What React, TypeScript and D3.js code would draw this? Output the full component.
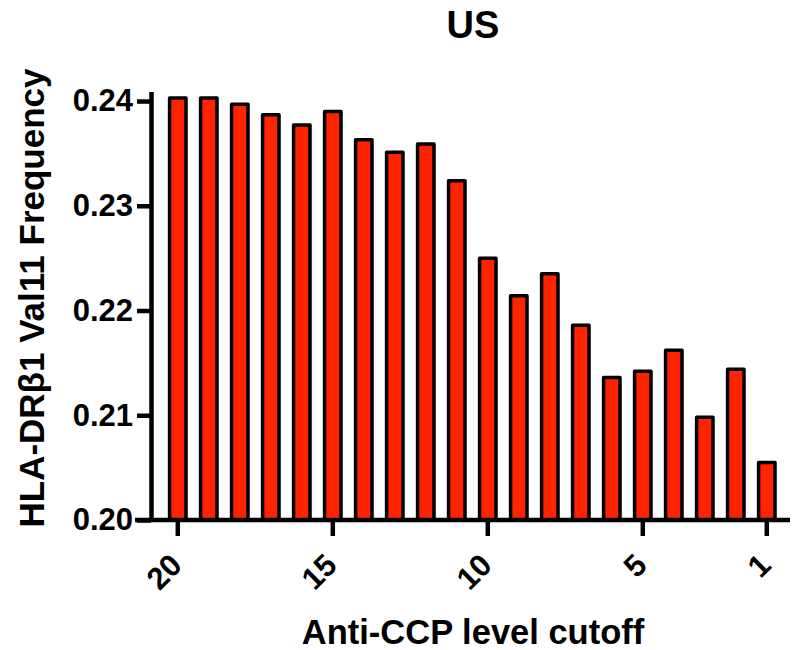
import React, { useEffect, useRef } from 'react';
import * as d3 from 'd3';

// anti-CCP level cutoffs, left to right
const cutoffs: string[] = ['20', '19', '18', '17', '16', '15', '14', '13', '12', '11', '10', '9', '8', '7', '6', '5', '4', '3', '2', '1'];
// HLA-DRb1 Val11 frequency for each cutoff
const frequency: number[] = [
  0.2403, 0.2403, 0.2397, 0.2387, 0.2377, 0.2390, 0.2363, 0.2351, 0.2359, 0.2324,
  0.2250, 0.2214, 0.2235, 0.2186, 0.2136, 0.2142, 0.2162, 0.2098, 0.2144, 0.2055,
];
const xTickLabels: string[] = ['20', '15', '10', '5', '1'];
const yTickValues: number[] = [0.20, 0.21, 0.22, 0.23, 0.24];

const FONT = '"Liberation Sans", Arial, Helvetica, sans-serif';

const App = () => {
  const chartRef = useRef<SVGSVGElement>(null);

  useEffect(() => {
    const width = 793;
    const marginLeft = 151;
    const baseline = 520;

    const svg = d3.select(chartRef.current);
    svg.selectAll('*').remove();

    const x = d3.scaleBand()
      .domain(cutoffs)
      .range([162.3, 782.3])
      .paddingInner(0.47)
      .paddingOuter(0.235);

    const y = d3.scaleLinear()
      .domain([0.20, 0.2409])
      .range([baseline, 91.6]);

    const data = cutoffs.map((c, i) => ({ c, v: frequency[i] }));

    // bars
    svg.append('g')
      .selectAll('rect')
      .data(data)
      .join('rect')
        .attr('x', d => x(d.c))
        .attr('y', d => y(d.v))
        .attr('width', x.bandwidth())
        .attr('height', d => y(0.20) - y(d.v))
        .attr('fill', '#ff2400')
        .attr('stroke', '#000')
        .attr('stroke-width', 3.5)
        .attr('stroke-linejoin', 'round');

    // y axis
    const yAxis = svg.append('g')
      .attr('transform', `translate(${marginLeft}, 0)`)
      .call(d3.axisLeft(y)
        .tickValues(yTickValues)
        .tickFormat(d3.format('.2f'))
        .tickSize(14)
        .tickSizeOuter(0)
        .tickPadding(4));
    yAxis.select('.domain').attr('stroke-width', 4.5);
    yAxis.selectAll('.tick line').attr('stroke-width', 4.5);
    yAxis.selectAll('.tick text')
      .attr('font-family', FONT)
      .attr('font-weight', 'bold')
      .attr('font-size', 31)
      .attr('fill', '#000');

    // x axis
    const xAxis = svg.append('g')
      .attr('transform', `translate(0, ${baseline})`)
      .call(d3.axisBottom(x)
        .tickValues(xTickLabels)
        .tickSize(16)
        .tickSizeOuter(0));
    xAxis.select('.domain').remove();
    xAxis.append('line')
      .attr('x1', marginLeft - 16)
      .attr('x2', width - 3)
      .attr('stroke', '#000')
      .attr('stroke-width', 4.5);
    xAxis.selectAll('.tick line').attr('stroke-width', 4.5);
    xAxis.selectAll('.tick text')
      .attr('font-family', FONT)
      .attr('font-weight', 'bold')
      .attr('font-size', 31)
      .attr('fill', '#000')
      .attr('text-anchor', 'end')
      .attr('dy', null)
      .attr('y', null)
      .attr('transform', 'translate(6, 47) rotate(-45)');

    // titles
    svg.append('text')
      .attr('x', 473)
      .attr('y', 38)
      .attr('text-anchor', 'middle')
      .attr('font-family', FONT)
      .attr('font-weight', 'bold')
      .attr('font-size', 38)
      .text('US');

    svg.append('text')
      .attr('x', 473)
      .attr('y', 644)
      .attr('text-anchor', 'middle')
      .attr('font-family', FONT)
      .attr('font-weight', 'bold')
      .attr('font-size', 34.5)
      .text('Anti-CCP level cutoff');

    svg.append('text')
      .attr('transform', `translate(44, 298) rotate(-90)`)
      .attr('text-anchor', 'middle')
      .attr('font-family', FONT)
      .attr('font-weight', 'bold')
      .attr('font-size', 35)
      .text('HLA-DRβ1 Val11 Frequency');
  }, []);

  return (
    <svg
      ref={chartRef}
      width={793}
      height={650}
      style={{ position: 'absolute', left: 0, top: 0, background: '#fff' }}
    />
  );
};

export default App;
